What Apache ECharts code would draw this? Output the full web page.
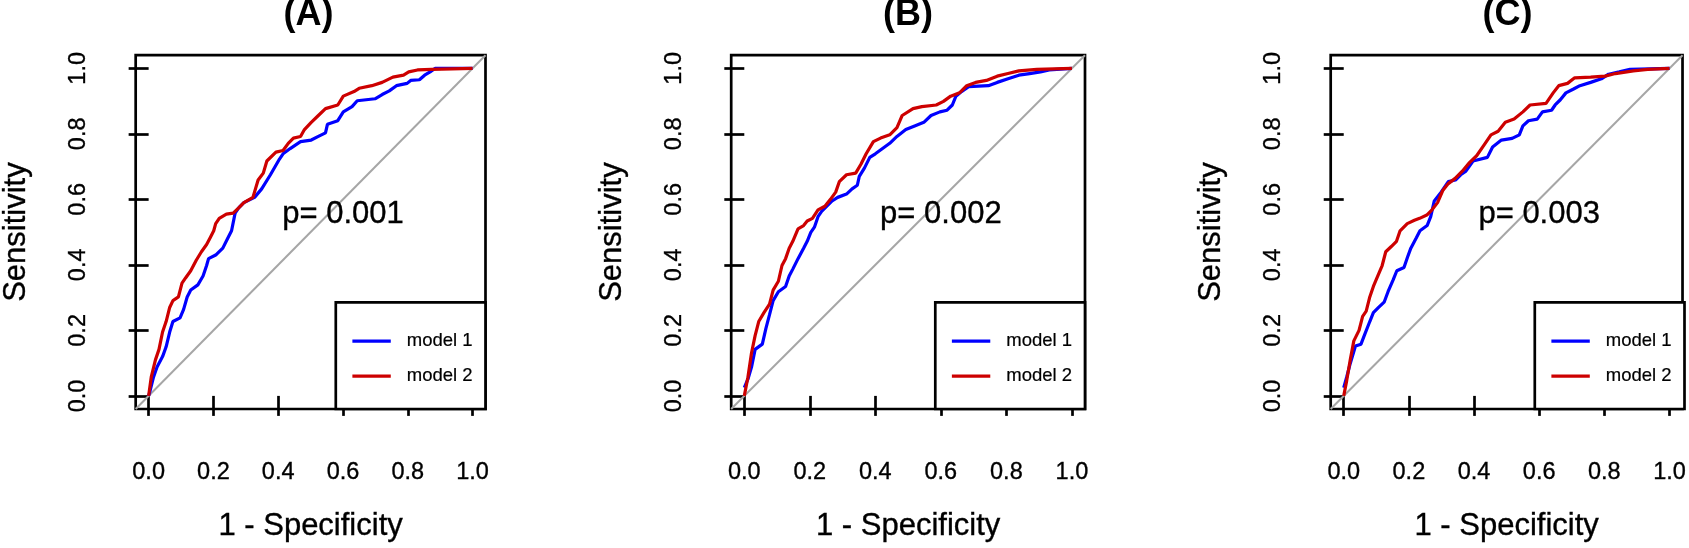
<!DOCTYPE html>
<html>
<head>
<meta charset="utf-8">
<script src="https://cdn.jsdelivr.net/npm/echarts@6/dist/echarts.min.js"></script>
<style>
  html, body { margin: 0; padding: 0; background: #fff; }
  #chart { width: 1689px; height: 548px; }
</style>
</head>
<body>
<div id="chart"></div>
<script>
// ---------------- data ----------------
const panelTitles = ['(A)', '(B)', '(C)'];
const pTexts = ['p= 0.001', 'p= 0.002', 'p= 0.003'];
const pTextPos = [0.6, 0.555];
const seriesNames = ['model 1', 'model 2'];
const ticks = [0, 0.2, 0.4, 0.6, 0.8, 1.0];
const tickLabels = ['0.0', '0.2', '0.4', '0.6', '0.8', '1.0'];
const xTitle = '1 - Specificity';
const yTitle = 'Sensitivity';
const diagonal = [[-0.04, -0.04], [1.04, 1.04]];

// (A) model 1 / model 2 : [1 - specificity, sensitivity]
const A_model1 = [[0,0],[0.004,0.014],[0.015,0.057],[0.026,0.088],[0.043,0.12],[0.054,0.15],[0.065,0.195],[0.075,0.227],[0.097,0.238],[0.108,0.264],[0.119,0.302],[0.13,0.323],[0.152,0.339],[0.168,0.366],[0.179,0.398],[0.185,0.419],[0.207,0.43],[0.229,0.451],[0.245,0.483],[0.256,0.504],[0.267,0.558],[0.278,0.574],[0.294,0.59],[0.327,0.606],[0.349,0.632],[0.376,0.675],[0.404,0.723],[0.415,0.739],[0.437,0.755],[0.469,0.776],[0.502,0.781],[0.524,0.792],[0.546,0.803],[0.552,0.829],[0.584,0.84],[0.601,0.867],[0.628,0.883],[0.644,0.901],[0.699,0.907],[0.721,0.92],[0.743,0.931],[0.765,0.947],[0.798,0.954],[0.809,0.963],[0.836,0.965],[0.852,0.979],[0.869,0.989],[0.885,1.0],[1,1]];
const A_model2 = [[0,0],[0.008,0.057],[0.021,0.11],[0.032,0.142],[0.043,0.195],[0.054,0.227],[0.065,0.27],[0.075,0.291],[0.092,0.302],[0.103,0.344],[0.114,0.36],[0.13,0.382],[0.147,0.414],[0.163,0.44],[0.179,0.462],[0.19,0.483],[0.201,0.504],[0.207,0.526],[0.218,0.542],[0.24,0.555],[0.261,0.558],[0.278,0.574],[0.294,0.59],[0.322,0.606],[0.338,0.659],[0.354,0.68],[0.365,0.717],[0.393,0.744],[0.415,0.749],[0.431,0.771],[0.447,0.787],[0.469,0.792],[0.481,0.813],[0.502,0.835],[0.524,0.856],[0.546,0.877],[0.584,0.888],[0.601,0.915],[0.634,0.929],[0.65,0.939],[0.689,0.947],[0.721,0.957],[0.754,0.973],[0.787,0.979],[0.803,0.989],[0.83,0.995],[0.874,0.997],[1,1]];

// (B)
const B_model1 = [[0,0.025],[0.011,0.051],[0.022,0.088],[0.033,0.142],[0.055,0.158],[0.066,0.206],[0.077,0.248],[0.088,0.291],[0.104,0.318],[0.126,0.334],[0.137,0.366],[0.148,0.387],[0.164,0.419],[0.181,0.451],[0.192,0.472],[0.203,0.499],[0.214,0.515],[0.225,0.547],[0.236,0.563],[0.252,0.579],[0.268,0.595],[0.285,0.606],[0.312,0.616],[0.329,0.632],[0.345,0.643],[0.351,0.67],[0.367,0.696],[0.383,0.728],[0.4,0.739],[0.422,0.755],[0.444,0.771],[0.466,0.792],[0.493,0.813],[0.52,0.824],[0.548,0.835],[0.57,0.856],[0.597,0.867],[0.619,0.872],[0.635,0.888],[0.646,0.915],[0.663,0.929],[0.685,0.944],[0.745,0.947],[0.772,0.957],[0.805,0.968],[0.838,0.979],[0.871,0.984],[0.904,0.989],[0.931,0.995],[1,1]];
const B_model2 = [[0,0],[0.011,0.057],[0.022,0.131],[0.033,0.184],[0.044,0.227],[0.06,0.254],[0.077,0.28],[0.088,0.323],[0.104,0.35],[0.115,0.398],[0.126,0.419],[0.137,0.451],[0.148,0.472],[0.164,0.51],[0.181,0.52],[0.192,0.534],[0.208,0.542],[0.225,0.568],[0.246,0.579],[0.263,0.6],[0.279,0.622],[0.29,0.654],[0.312,0.675],[0.34,0.68],[0.356,0.707],[0.372,0.739],[0.394,0.776],[0.416,0.787],[0.444,0.797],[0.466,0.819],[0.482,0.856],[0.515,0.877],[0.542,0.883],[0.586,0.888],[0.608,0.899],[0.63,0.915],[0.657,0.925],[0.679,0.947],[0.706,0.957],[0.739,0.963],[0.772,0.976],[0.805,0.984],[0.838,0.992],[0.893,0.997],[1,1]];

// (C)
const C_model1 = [[0,0.025],[0.009,0.057],[0.02,0.099],[0.036,0.152],[0.053,0.158],[0.063,0.184],[0.08,0.227],[0.091,0.254],[0.107,0.27],[0.124,0.286],[0.136,0.318],[0.152,0.355],[0.163,0.382],[0.185,0.392],[0.196,0.424],[0.206,0.451],[0.223,0.483],[0.234,0.504],[0.256,0.52],[0.267,0.547],[0.278,0.595],[0.299,0.622],[0.321,0.654],[0.343,0.659],[0.359,0.675],[0.375,0.686],[0.397,0.717],[0.441,0.728],[0.457,0.76],[0.484,0.781],[0.517,0.786],[0.539,0.797],[0.55,0.824],[0.567,0.84],[0.594,0.845],[0.61,0.867],[0.638,0.872],[0.649,0.888],[0.665,0.904],[0.682,0.925],[0.704,0.936],[0.725,0.947],[0.758,0.957],[0.791,0.968],[0.813,0.982],[0.846,0.989],[0.879,0.997],[1,1]];
const C_model2 = [[0,0],[0.009,0.046],[0.02,0.11],[0.031,0.168],[0.047,0.2],[0.058,0.243],[0.069,0.259],[0.08,0.302],[0.091,0.334],[0.102,0.36],[0.118,0.398],[0.129,0.44],[0.146,0.456],[0.162,0.472],[0.173,0.504],[0.195,0.526],[0.217,0.536],[0.233,0.542],[0.255,0.552],[0.271,0.568],[0.288,0.59],[0.304,0.627],[0.321,0.648],[0.342,0.664],[0.364,0.686],[0.386,0.712],[0.408,0.733],[0.43,0.765],[0.452,0.797],[0.474,0.808],[0.496,0.835],[0.523,0.845],[0.55,0.867],[0.572,0.888],[0.621,0.893],[0.643,0.925],[0.66,0.947],[0.687,0.954],[0.709,0.971],[0.758,0.973],[0.802,0.976],[0.834,0.984],[0.889,0.992],[0.933,0.997],[1,1]];

const model1Data = [A_model1, B_model1, C_model1];
const model2Data = [A_model2, B_model2, C_model2];

// ---------------- layout / style ----------------
const FONT = "'Liberation Sans', Arial, Helvetica, sans-serif";
const W = 1689, H = 548;
const gridLefts = [131.7, 731.2, 1330.7];
const gridTop = 55.2;
const gridSize = 353.8;
const colors = ['#0000FF', '#CD0000'];
const INK = { textBorderColor: '#000', textBorderWidth: 0.35 };

const grids = [], xAxes = [], yAxes = [], series = [], legends = [], graphics = [];

gridLefts.forEach((gl, i) => {
  grids.push({
    left: gl, top: gridTop, width: gridSize, height: gridSize,
    show: true, borderColor: '#000', borderWidth: 2.7, backgroundColor: 'transparent'
  });
  xAxes.push({
    type: 'value', gridIndex: i, min: -0.04, max: 1.04,
    splitLine: { show: false },
    axisLine: { show: false },
    axisTick: { show: true, customValues: ticks, length: 20, lineStyle: { color: '#000', width: 2.7 } },
    axisLabel: Object.assign({
      customValues: ticks, formatter: v => tickLabels[ticks.indexOf(v)],
      margin: 64, verticalAlign: 'middle', fontSize: 23.5, color: '#000', fontFamily: FONT
    }, INK),
    name: xTitle, nameLocation: 'middle', nameGap: 117,
    nameTextStyle: Object.assign({ fontSize: 31, color: '#000', fontFamily: FONT, verticalAlign: 'middle' }, INK)
  });
  yAxes.push({
    type: 'value', gridIndex: i, min: -0.04, max: 1.04,
    splitLine: { show: false },
    axisLine: { show: false },
    axisTick: { show: true, customValues: ticks, length: 20, lineStyle: { color: '#000', width: 2.7 } },
    axisLabel: Object.assign({
      customValues: ticks, formatter: v => tickLabels[ticks.indexOf(v)],
      rotate: 90, margin: 57, verticalAlign: 'middle', align: 'center',
      fontSize: 23.5, color: '#000', fontFamily: FONT
    }, INK),
    name: yTitle, nameLocation: 'middle', nameGap: 119, nameRotate: 90,
    nameTextStyle: Object.assign({ fontSize: 31, color: '#000', fontFamily: FONT, verticalAlign: 'middle' }, INK)
  });
  series.push({
    type: 'line', name: 'identity', xAxisIndex: i, yAxisIndex: i,
    data: diagonal, symbol: 'none', silent: true,
    lineStyle: { color: '#A6A6A6', width: 2 }, z: 1
  });
  series.push({
    type: 'line', name: seriesNames[0], xAxisIndex: i, yAxisIndex: i,
    data: model1Data[i], symbol: 'none', color: colors[0],
    lineStyle: { color: colors[0], width: 3.2 }, z: 2
  });
  series.push({
    type: 'line', name: seriesNames[1], xAxisIndex: i, yAxisIndex: i,
    data: model2Data[i], symbol: 'none', color: colors[1],
    lineStyle: { color: colors[1], width: 3.2 }, z: 3
  });
  series.push({
    type: 'scatter', name: 'p' + i, xAxisIndex: i, yAxisIndex: i,
    data: [pTextPos], symbolSize: 1, itemStyle: { color: 'rgba(0,0,0,0)' }, silent: true, z: 4,
    label: {
      show: true, position: 'inside', formatter: pTexts[i], fontSize: 31,
      color: '#000', opacity: 1, fontFamily: FONT, textBorderColor: '#000', textBorderWidth: 0.35
    }
  });
  legends.push({
    data: seriesNames, orient: 'vertical', selectedMode: false,
    right: W - (gl + gridSize), bottom: H - (gridTop + gridSize),
    icon: 'rect', itemWidth: 38.4, itemHeight: 3.2, itemGap: 15,
    padding: [28.8, 12.8, 22.8, 16.6],
    borderColor: '#000', borderWidth: 2.7, backgroundColor: '#fff', borderRadius: 0,
    textStyle: Object.assign({ fontSize: 18.5, lineHeight: 20, color: '#000', fontFamily: FONT, padding: [0, 0, 0, 11] }, { textBorderColor: '#000', textBorderWidth: 0.2 })
  });
  graphics.push({
    type: 'text', x: gl + gridSize / 2, y: 15,
    style: { text: panelTitles[i], fontSize: 36, fontWeight: 'bold', fontFamily: FONT, fill: '#000', align: 'center', verticalAlign: 'middle' }
  });
});

const chart = echarts.init(document.getElementById('chart'), null, { width: W, height: H, renderer: 'canvas' });
chart.setOption({
  backgroundColor: '#fff',
  animation: false,
  grid: grids, xAxis: xAxes, yAxis: yAxes, series: series,
  legend: legends, graphic: graphics
});
</script>
</body>
</html>
